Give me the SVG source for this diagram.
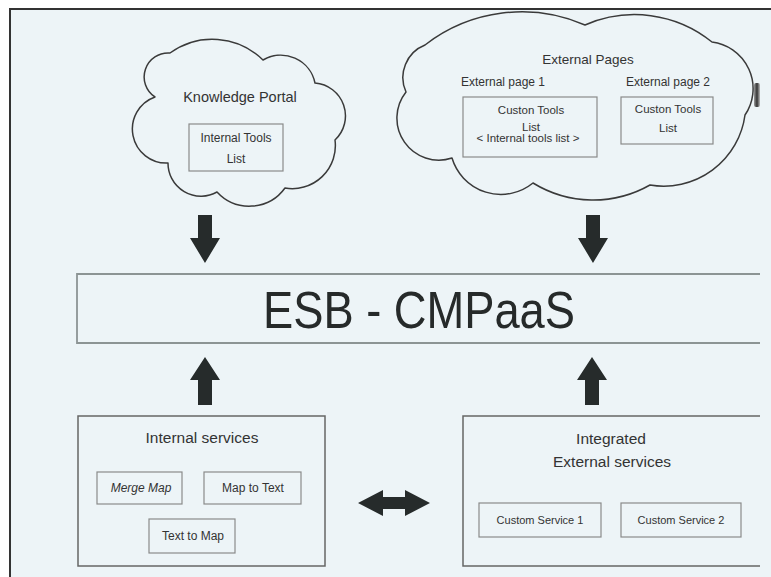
<svg xmlns="http://www.w3.org/2000/svg" width="771" height="577" viewBox="0 0 771 577">
  <style>
    .txt { font-family: "Liberation Sans", Arial, sans-serif; fill: #333; text-anchor: middle; dominant-baseline: central; }
    .cloud { fill: none; stroke: #3a3a3a; stroke-width: 1.5; stroke-linejoin: round; }
    .box { fill: none; stroke: #8a8a8a; stroke-width: 1.2; }
    .arrow { fill: #262b2b; }
  </style>
  <defs>
    <linearGradient id="edgeShade" x1="0" y1="0" x2="1" y2="0">
      <stop offset="0" stop-color="#9a9a9a"/>
      <stop offset="0.5" stop-color="#333"/>
      <stop offset="1" stop-color="#bbb"/>
    </linearGradient>
  </defs>

  <!-- page -->
  <rect x="0" y="0" width="771" height="577" fill="#ffffff"/>
  <rect x="10" y="9" width="761" height="568" fill="#edf4f7"/>
  <path d="M10,577 V9 H771" fill="none" stroke="#333" stroke-width="2"/>

  <!-- Knowledge Portal cloud -->
  <g id="knowledge-portal">
    <path class="cloud" d="M155,97 A24,24 0 0 1 170,53 A72,72 0 0 1 263,60 A35,35 0 0 1 315,83 A33,33 0 0 1 335,140 A43,43 0 0 1 285,188 A44,44 0 0 1 217,192 A33,33 0 0 1 168,163 A34,34 0 0 1 155,97 Z"/>
    <text class="txt" x="240" y="97" font-size="14.5">Knowledge Portal</text>
    <g id="internal-tools-list">
      <rect class="box" x="189" y="124" width="94" height="47"/>
      <text class="txt" x="236" y="138" font-size="12">Internal Tools</text>
      <text class="txt" x="236" y="159" font-size="12">List</text>
    </g>
  </g>

  <!-- External Pages cloud -->
  <g id="external-pages">
    <path class="cloud" d="M406,92 A35,35 0 0 1 425,45 A158,158 0 0 1 585,25 A123,123 0 0 1 712,42 A47,47 0 0 1 745,115 A82,82 0 0 1 650,185 A115,115 0 0 1 533,183 A51,51 0 0 1 452,158 A42,42 0 0 1 406,92 Z"/>
    <rect x="754" y="83" width="6" height="24" rx="2" fill="url(#edgeShade)"/>
    <text class="txt" x="588" y="59" font-size="13.5">External Pages</text>
    <text class="txt" x="503" y="82" font-size="12">External page 1</text>
    <text class="txt" x="668" y="82" font-size="12">External page 2</text>
    <g id="external-page-1">
      <rect class="box" x="463" y="97" width="134" height="60"/>
      <text class="txt" x="531" y="110" font-size="11.5">Custon Tools</text>
      <text class="txt" x="531" y="127" font-size="11.5">List</text>
      <text class="txt" x="528" y="138" font-size="11.5">&lt; Internal tools list &gt;</text>
    </g>
    <g id="external-page-2">
      <rect class="box" x="621" y="97" width="92" height="47"/>
      <text class="txt" x="668" y="109" font-size="11.5">Custon Tools</text>
      <text class="txt" x="668" y="128" font-size="11.5">List</text>
    </g>
  </g>

  <!-- Service bus -->
  <g id="esb">
    <path d="M760,274 H77 V343 H760" fill="none" stroke="#8c9494" stroke-width="1.8"/>
    <text x="419" y="328" font-family="'Liberation Sans', Arial, sans-serif" font-size="52" fill="#262a2a" text-anchor="middle" textLength="312" lengthAdjust="spacingAndGlyphs">ESB - CMPaaS</text>
  </g>

  <!-- Internal services -->
  <g id="internal-services">
    <rect x="78" y="416" width="247" height="150" fill="none" stroke="#666" stroke-width="1.5"/>
    <text class="txt" x="202" y="437" font-size="15.5">Internal services</text>
    <g id="merge-map">
      <rect class="box" x="97" y="472" width="85" height="32"/>
      <text class="txt" x="141" y="488" font-size="12" font-style="italic">Merge Map</text>
    </g>
    <g id="map-to-text">
      <rect class="box" x="204" y="472" width="97" height="32"/>
      <text class="txt" x="253" y="488" font-size="12">Map to Text</text>
    </g>
    <g id="text-to-map">
      <rect class="box" x="149" y="519" width="86" height="34"/>
      <text class="txt" x="193" y="536" font-size="12">Text to Map</text>
    </g>
  </g>

  <!-- Integrated external services -->
  <g id="external-services">
    <path d="M760,416 H463 V566 H760" fill="none" stroke="#666" stroke-width="1.5"/>
    <text class="txt" x="611" y="438" font-size="15.5">Integrated</text>
    <text class="txt" x="612" y="461" font-size="15.5">External services</text>
    <g id="custom-service-1">
      <rect class="box" x="479" y="503" width="122" height="34"/>
      <text class="txt" x="540" y="520" font-size="11">Custom Service 1</text>
    </g>
    <g id="custom-service-2">
      <rect class="box" x="621" y="503" width="120" height="34"/>
      <text class="txt" x="681" y="520" font-size="11">Custom Service 2</text>
    </g>
  </g>

  <!-- Connectors -->
  <g id="connectors">
    <polygon class="arrow" points="198,215 212,215 212,238 220,238 205,263 190,238 198,238"/>
    <polygon class="arrow" points="586,215 600,215 600,238 608,238 593,263 578,238 586,238"/>
    <polygon class="arrow" points="205,357 220,380 212,380 212,405 198,405 198,380 190,380"/>
    <polygon class="arrow" points="592,357 607,380 599,380 599,405 585,405 585,380 577,380"/>
    <polygon class="arrow" points="358,503 383,490 383,497 405,497 405,490 430,503 405,516 405,509 383,509 383,516"/>
  </g>
</svg>
